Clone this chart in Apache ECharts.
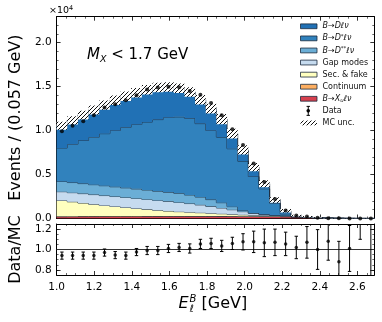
<!DOCTYPE html>
<html><head><meta charset="utf-8">
<script src="https://cdn.jsdelivr.net/npm/echarts@6/dist/echarts.min.js"></script>
<style>html,body{margin:0;padding:0;background:#fff}#c{width:382px;height:322px}</style>
</head><body><div id="c"></div>
<script>
// ---- data ----
const xMin = 1.0, xHistMax = 2.7, nBins = 30, xAxisMax = 2.69;
const xTicks = [1.0, 1.2, 1.4, 1.6, 1.8, 2.0, 2.2, 2.4, 2.6];
const yTicks = [0.0, 0.5, 1.0, 1.5, 2.0]; // x10^4
const ratioTicks = [0.8, 1.0, 1.2];

// stack components, bottom -> top
const compXu   = [200,210,215,220,225,230,235,240,245,245,250,250,250,250,250,245,240,235,230,225,215,200,160,110,50,22,12,6,4,3];
const compCont = [60,60,60,55,55,55,50,50,50,45,45,45,40,40,40,35,35,30,30,25,25,20,15,10,6,4,3,2,1,1];
const compSF   = [1790,1630,1485,1345,1210,1085,965,850,745,650,555,485,430,370,310,260,205,155,110,80,60,50,35,20,9,4,2,1,1,1];
const compGap  = [1000,1040,1070,1100,1120,1130,1140,1140,1130,1120,1100,1050,980,890,780,660,520,360,210,110,60,40,20,15,5,2,1,1,1,0];
const compDss  = [1160,1150,1140,1130,1120,1110,1100,1090,1080,1060,1050,1040,980,900,770,600,350,120,40,30,20,20,15,10,4,1,1,0,0,0];
const compDst  = [3820,4360,4900,5400,5920,6410,6890,7330,7730,8130,8500,8690,8720,8340,7870,7460,6590,5630,4160,2910,1360,200,30,20,5,1,0,0,0,0];
const compD    = [2520,2700,2880,3100,3250,3430,3520,3600,3670,3650,3450,3240,3000,2710,2480,2040,1710,1270,1070,570,360,340,65,30,6,1,1,0,0,0];
const mcUnc    = [450,470,490,510,520,530,540,540,540,540,540,540,540,540,560,580,560,520,470,400,320,200,100,60,40,30,20,15,10,10];

const dataVals = [9910,10560,11050,11730,12610,12980,13440,14010,14660,14890,14980,14920,14490,14070,13130,11730,10160,8370,6260,4160,2220,910,340,230,80,30,20,12,10,5];
const ratioVals = [0.94,0.94,0.94,0.94,0.97,0.945,0.94,0.975,0.99,0.99,1.01,1.02,1.01,1.055,1.06,1.035,1.06,1.075,1.075,1.065,1.07,1.055,1.02,1.07,1.0,1.08,0.88,1.01,1.45,1.6];
const ratioErr  = [0.035,0.035,0.035,0.035,0.035,0.035,0.035,0.035,0.04,0.04,0.04,0.04,0.045,0.045,0.05,0.055,0.06,0.08,0.105,0.135,0.13,0.115,0.11,0.155,0.195,0.185,0.2,0.225,0.35,1.0];

const layerNames  = ['B→Xuℓν','Continuum','Sec. & fake','Gap modes','B→D**ℓν','B→D*ℓν','B→Dℓν'];
const layerColors = ['#d6404e','#fdae61','#ffffbf','#c6dbef','#6baed6','#3182bd','#2171b5'];
const layers = [compXu, compCont, compSF, compGap, compDss, compDst, compD];
const legendOrder = ['B→Dℓν','B→D*ℓν','B→D**ℓν','Gap modes','Sec. & fake','Continuum','B→Xuℓν','Data','MC unc.'];
const legendRich = {
  'B→Dℓν':'{i|B}→{i|Dℓν}', 'B→D*ℓν':'{i|B}→{i|D}{sup|*}{i|ℓν}', 'B→D**ℓν':'{i|B}→{i|D}{sup|**}{i|ℓν}',
  'Gap modes':'Gap modes','Sec. & fake':'Sec. & fake','Continuum':'Continuum','B→Xuℓν':'{i|B}→{i|X}{sub|u}{i|ℓν}',
  'Data':'Data','MC unc.':'MC unc.'
};

// ---- derived ----
const bw = (xHistMax - xMin) / nBins;
const edges = []; for (let i = 0; i <= nBins; i++) edges.push(xMin + i * bw);
const centers = []; for (let i = 0; i < nBins; i++) centers.push(xMin + (i + 0.5) * bw);
const cumTop = [], cumBot = [];
let run = new Array(nBins).fill(0);
layers.forEach(arr => { cumBot.push(run.slice()); run = run.map((v, i) => v + arr[i]); cumTop.push(run.slice()); });
const mcTotal = run;

// hatch pattern
const pc = document.createElement('canvas'); pc.width = 4; pc.height = 4;
const pctx = pc.getContext('2d');
pctx.fillStyle = '#fff'; pctx.fillRect(0,0,4,4);
pctx.strokeStyle = '#111'; pctx.lineWidth = 1;
pctx.beginPath(); pctx.moveTo(-1,5); pctx.lineTo(5,-1); pctx.moveTo(-1,1); pctx.lineTo(1,-1); pctx.moveTo(3,5); pctx.lineTo(5,3); pctx.stroke();
const hatch = { image: pc, repeat: 'repeat' };

const FONT = 'DejaVu Sans';
const G0 = {left: 47.7, top: 16.7, width: 326.6, height: 201.8};
const G1 = {left: 47.7, top: 224, width: 326.6, height: 51};

const series = [];
layers.forEach((arr, k) => {
  const bot = cumBot[k], top = cumTop[k], color = layerColors[k];
  series.push({type:'custom', name: layerNames[k], xAxisIndex:0, yAxisIndex:0, clip:true, z:2,
    itemStyle:{color: color}, encode:{x:[0,1], y:[2,3]},
    data: arr.map((v, i) => [edges[i], edges[i+1], bot[i], top[i]]),
    renderItem(params, api) {
      if (params.dataIndex !== 0) return null;
      const pts = [];
      for (let i = 0; i < nBins; i++) { pts.push(api.coord([edges[i], top[i]])); pts.push(api.coord([edges[i+1], top[i]])); }
      for (let i = nBins - 1; i >= 0; i--) { pts.push(api.coord([edges[i+1], bot[i]])); pts.push(api.coord([edges[i], bot[i]])); }
      const line = [];
      for (let i = 0; i < nBins; i++) { line.push(api.coord([edges[i], top[i]])); line.push(api.coord([edges[i+1], top[i]])); }
      return {type:'group', children:[
        {type:'polygon', shape:{points: pts}, style:{fill: color}},
        {type:'polyline', shape:{points: line}, style:{stroke:'#1b2a3c', lineWidth:0.9, fill:null}}
      ]};
    }});
});
series.push({type:'custom', name:'MC unc.', xAxisIndex:0, yAxisIndex:0, clip:true, z:4,
  itemStyle:{color: hatch},
  renderItem(params, api){
    const p0 = api.coord([api.value(0), api.value(3)]);
    const p1 = api.coord([api.value(1), api.value(2)]);
    return {type:'rect', shape:{x:p0[0], y:p0[1], width:p1[0]-p0[0], height:p1[1]-p0[1]}, style:{fill: hatch}};
  },
  encode:{x:[0,1], y:[2,3]},
  data: mcTotal.map((v, i) => [edges[i], edges[i+1], Math.max(0, v - mcUnc[i]), v + mcUnc[i]])});
series.push({type:'scatter', name:'Data', xAxisIndex:0, yAxisIndex:0, clip:true, z:5, symbol:'circle', symbolSize:4,
  itemStyle:{color:'#000'}, data: dataVals.map((v, i) => [centers[i], v])});
// ratio panel
series.push({type:'custom', xAxisIndex:2, yAxisIndex:4, clip:true, z:5,
  renderItem(params, api){
    const x = api.value(0), v = api.value(1), e = api.value(2);
    const lo = api.coord([x, v - e]), hi = api.coord([x, v + e]);
    return {type:'group', children:[
      {type:'line', shape:{x1:lo[0], y1:lo[1], x2:hi[0], y2:hi[1]}, style:{stroke:'#000', lineWidth:1}},
      {type:'line', shape:{x1:lo[0]-1.7, y1:lo[1], x2:lo[0]+1.7, y2:lo[1]}, style:{stroke:'#000', lineWidth:1}},
      {type:'line', shape:{x1:hi[0]-1.7, y1:hi[1], x2:hi[0]+1.7, y2:hi[1]}, style:{stroke:'#000', lineWidth:1}}
    ]};
  },
  encode:{x:0, y:1}, data: ratioVals.map((v, i) => [centers[i], v, ratioErr[i]])});
series.push({type:'scatter', xAxisIndex:2, yAxisIndex:4, clip:true, z:6, symbol:'circle', symbolSize:3.5,
  itemStyle:{color:'#000'}, data: ratioVals.map((v, i) => [centers[i], v]),
  markLine:{silent:true, symbol:['none','none'], label:{show:false}, lineStyle:{color:'#333', width:1, type:'solid'},
    data:[{yAxis:1.0}], animation:false}});

const tickLine = {color:'#000', width:0.8};
function xAx(grid, pos, showLabel) {
  return {type:'value', gridIndex:grid, position:pos, min:xMin, max:xAxisMax, interval:0.2,
    axisLine:{show:true, onZero:false, lineStyle:{color:'#000', width:1}},
    axisTick:{show:true, inside:true, length:4, lineStyle:tickLine},
    minorTick:{show:true, splitNumber:4, length:2, lineStyle:{color:'#000', width:0.6}},
    splitLine:{show:false},
    axisLabel:{show:showLabel, showMaxLabel:false, fontSize:10.5, color:'#000', fontFamily:FONT, margin:7,
      formatter: v => xTicks.find(t => Math.abs(t - v) < 1e-6) !== undefined ? v.toFixed(1) : ''}};
}
function yMain(pos, showLabel) {
  return {type:'value', gridIndex:0, position:pos, min:0, max:22950, interval:5000,
    axisLine:{show:true, onZero:false, lineStyle:{color:'#000', width:1}},
    axisTick:{show:true, inside:true, length:4, lineStyle:tickLine},
    minorTick:{show:true, splitNumber:5, length:2, lineStyle:{color:'#000', width:0.6}},
    splitLine:{show:false},
    name: showLabel ? 'Events / (0.057 GeV)' : '', nameLocation:'middle', nameGap:26,
    nameTextStyle:{fontSize:16, fontFamily:FONT, color:'#000'},
    axisLabel:{show:showLabel, showMaxLabel:false, fontSize:10.5, color:'#000', fontFamily:FONT, margin:5,
      formatter: v => { const t = yTicks.find(t => Math.abs(t*1e4 - v) < 1e-3); return t === undefined ? '' : t.toFixed(1); }}};
}
function yRatio(pos, showLabel) {
  return {type:'value', gridIndex:1, position:pos, min:0.75, max:1.25,
    axisLine:{show:true, onZero:false, lineStyle:{color:'#000', width:1}},
    axisTick:{show:true, inside:true, length:4, lineStyle:tickLine, customValues: ratioTicks},
    splitLine:{show:false},
    name: showLabel ? 'Data/MC' : '', nameLocation:'middle', nameGap:26,
    nameTextStyle:{fontSize:16, fontFamily:FONT, color:'#000'},
    axisLabel:{show:showLabel, customValues: ratioTicks, fontSize:10.5, color:'#000', fontFamily:FONT, margin:5,
      formatter: v => v.toFixed(1)}};
}
function yRatioMinor(pos) {
  return {type:'value', gridIndex:1, position:pos, min:0.75, max:1.25, interval:0.05,
    axisLine:{show:false}, axisTick:{show:true, inside:true, length:2, lineStyle:{color:'#000', width:0.6}},
    splitLine:{show:false}, axisLabel:{show:false}};
}

// legend (drawn as graphic)
const legendEls = [];
const rowY0 = 26.3, rowDy = 12.08, swX = 300.5, swW = 16.5, swH = 4.8, txX = 322.5;
const richStyles = {
  i:{fontStyle:'italic', fontSize:8, fontFamily:FONT, fill:'#111', lineHeight:10},
  sup:{fontStyle:'italic', fontSize:5.5, fontFamily:FONT, fill:'#111', verticalAlign:'top', lineHeight:10},
  sub:{fontStyle:'italic', fontSize:5.5, fontFamily:FONT, fill:'#111', verticalAlign:'bottom', lineHeight:10}
};
legendOrder.forEach((name, r) => {
  const y = rowY0 + r * rowDy;
  const li = layerNames.indexOf(name);
  if (li >= 0) {
    legendEls.push({type:'rect', shape:{x:swX, y:y - swH/2, width:swW, height:swH},
      style:{fill: layerColors[li], stroke:'#1b2a3c', lineWidth:0.8}});
  } else if (name === 'Data') {
    const cx = swX + swW/2 - 0.5;
    legendEls.push({type:'line', shape:{x1:cx, y1:y-4.5, x2:cx, y2:y+4.5}, style:{stroke:'#000', lineWidth:1}});
    legendEls.push({type:'line', shape:{x1:cx-1.7, y1:y-4.5, x2:cx+1.7, y2:y-4.5}, style:{stroke:'#000', lineWidth:1}});
    legendEls.push({type:'line', shape:{x1:cx-1.7, y1:y+4.5, x2:cx+1.7, y2:y+4.5}, style:{stroke:'#000', lineWidth:1}});
    legendEls.push({type:'circle', shape:{cx:cx, cy:y, r:1.8}, style:{fill:'#000'}});
  } else {
    legendEls.push({type:'rect', shape:{x:swX, y:y - swH/2, width:swW, height:swH}, style:{fill: hatch}});
  }
  legendEls.push({type:'text', x:txX, y:y, style:{text: legendRich[name], fontSize:8, fontFamily:FONT, fill:'#111',
    verticalAlign:'middle', rich: richStyles, lineHeight:10}});
});

const graphic = legendEls.concat([
  {type:'text', x:49, y:10.5, style:{text:'×10{s|4}', fontSize:9.5, fontFamily:FONT, fill:'#000', verticalAlign:'middle',
    rich:{s:{fontSize:6.5, fontFamily:FONT, verticalAlign:'top', lineHeight:11}}, lineHeight:11}},
  {type:'text', x:87, y:55.5, style:{text:'{i|M}{s|X} < 1.7 GeV', fontSize:15, fontFamily:FONT, fill:'#000', verticalAlign:'middle',
    lineHeight:18, rich:{i:{fontStyle:'italic', fontSize:15, fontFamily:FONT, lineHeight:18},
      s:{fontStyle:'italic', fontSize:9.5, fontFamily:FONT, verticalAlign:'bottom', lineHeight:18}}}},
  {type:'text', x:178.5, y:304, style:{text:'E', fontStyle:'italic', fontSize:16, fontFamily:FONT, fill:'#000', verticalAlign:'middle'}},
  {type:'text', x:189.5, y:299.5, style:{text:'B', fontStyle:'italic', fontSize:10, fontFamily:FONT, fill:'#000', verticalAlign:'middle'}},
  {type:'text', x:189.5, y:309.5, style:{text:'ℓ', fontStyle:'italic', fontSize:10, fontFamily:FONT, fill:'#000', verticalAlign:'middle'}},
  {type:'text', x:201.5, y:304, style:{text:'[GeV]', fontSize:16, fontFamily:FONT, fill:'#000', verticalAlign:'middle'}}
]);

const chart = echarts.init(document.getElementById('c'), null, {renderer:'canvas'});
chart.setOption({
  animation:false,
  backgroundColor:'#fff',
  grid:[G0, G1],
  xAxis:[xAx(0,'bottom',false), xAx(0,'top',false), xAx(1,'bottom',true), xAx(1,'top',false)],
  yAxis:[yMain('left',true), yMain('right',false), yRatioMinor('left'), yRatioMinor('right'), yRatio('left',true), yRatio('right',false)],
  series: series,
  graphic: graphic
});
</script></body></html>
